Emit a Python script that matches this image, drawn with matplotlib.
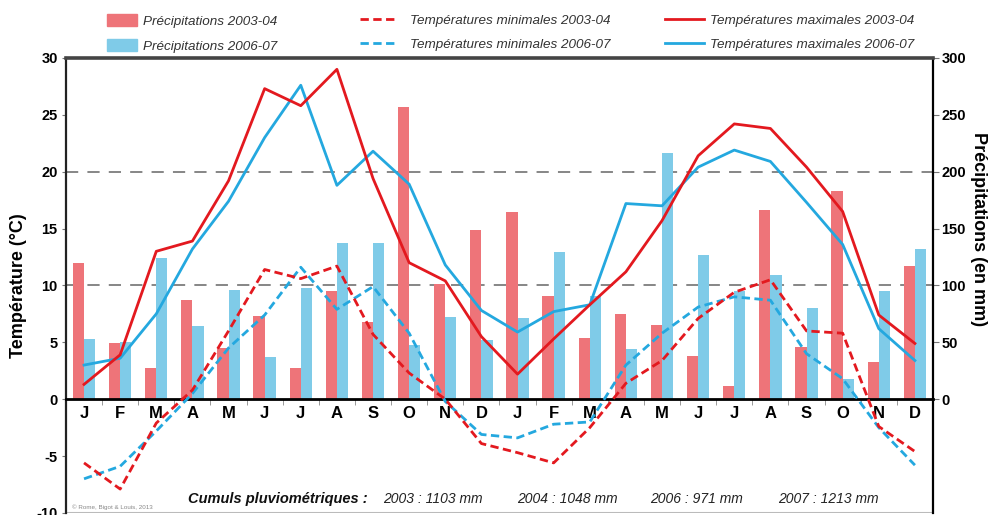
import numpy as np
import matplotlib
matplotlib.use("Agg")
import matplotlib.pyplot as plt
from matplotlib.patches import Patch
from matplotlib.lines import Line2D

plt.rcParams['font.family'] = ['Liberation Sans', 'DejaVu Sans']
plt.rcParams['axes.unicode_minus'] = False

# Mois (deux années hydrologiques enchaînées)
mois = ["J", "F", "M", "A", "M", "J", "J", "A", "S", "O", "N", "D",
        "J", "F", "M", "A", "M", "J", "J", "A", "S", "O", "N", "D"]

# Précipitations (mm)
precip_0304 = [120, 49, 27, 87, 45, 73, 27, 95, 68, 257, 101, 149,
               165, 91, 54, 75, 65, 38, 12, 166, 46, 183, 33, 117]
precip_0607 = [53, 50, 124, 64, 96, 37, 98, 137, 137, 48, 72, 52,
               71, 129, 91, 44, 216, 127, 95, 109, 80, 18, 95, 132]

# Températures (°C)
tmax_0304 = [1.3, 3.9, 13.0, 13.9, 19.2, 27.3, 25.8, 29.0, 19.4, 12.0, 10.4, 5.5,
             2.2, 5.3, 8.3, 11.2, 15.7, 21.4, 24.2, 23.8, 20.4, 16.5, 7.4, 4.9]
tmax_0607 = [3.0, 3.6, 7.5, 13.2, 17.4, 23.0, 27.6, 18.8, 21.8, 18.9, 11.8, 7.8,
             5.9, 7.7, 8.3, 17.2, 17.0, 20.4, 21.9, 20.9, 17.3, 13.6, 6.2, 3.4]
tmin_0304 = [-5.6, -7.9, -2.1, 0.8, 6.0, 11.4, 10.6, 11.7, 5.7, 2.3, 0.0, -3.9,
             -4.7, -5.6, -2.5, 1.4, 3.4, 7.1, 9.4, 10.5, 6.0, 5.8, -2.4, -4.6]
tmin_0607 = [-7.0, -5.9, -2.8, 0.5, 4.5, 7.4, 11.6, 7.9, 9.9, 5.8, -0.2, -3.1,
             -3.4, -2.2, -2.0, 3.0, 5.8, 8.1, 9.0, 8.7, 4.0, 1.8, -2.5, -5.8]

cumuls = ["2003 : 1103 mm", "2004 : 1048 mm", "2006 : 971 mm", "2007 : 1213 mm"]

RED_BAR = "#ee7479"
BLUE_BAR = "#7fcbe8"
RED = "#e3191f"
BLUE = "#24a8df"

x = np.arange(len(mois)) + 0.5

fig = plt.figure(figsize=(9.92, 5.15), dpi=100)
ax = fig.add_axes([0.0665, 0.004, 0.874, 0.8835])
ax2 = ax.twinx()
ax.set_zorder(ax2.get_zorder() + 1)
ax.patch.set_visible(False)

# spine position first: it resets the ticks
ax.spines['bottom'].set_position(('data', 0))

# Précipitations sur l'axe de droite
ax2.bar(x - 0.155, precip_0304, width=0.31, color=RED_BAR, zorder=2)
ax2.bar(x + 0.155, precip_0607, width=0.31, color=BLUE_BAR, zorder=2)
for v in (100, 200):
    ax2.axhline(v, color="#666666", lw=1.1, dashes=(8, 6), zorder=1)
ax2.set_ylim(-100, 300)
ax2.set_yticks(np.arange(0, 301, 50))
ax2.tick_params(axis='y', direction='out', length=4, color='#777777',
                labelsize=10.5, pad=2)
for t in ax2.get_yticklabels():
    t.set_fontweight('bold')
ax2.set_ylabel("Précipitations (en mm)", rotation=270, fontsize=13,
               fontweight='bold', labelpad=14)
ax2.yaxis.set_label_coords(1.062, 0.625)

# Températures
ax.plot(x, tmax_0304, color=RED, lw=2.0, zorder=4)
ax.plot(x, tmax_0607, color=BLUE, lw=2.0, zorder=3)
ax.plot(x, tmin_0304, color=RED, lw=2.0, dashes=(3, 1.6), zorder=4)
ax.plot(x, tmin_0607, color=BLUE, lw=2.0, dashes=(3, 1.6), zorder=3)

ax.set_xlim(0, 24)
ax.set_ylim(-10, 30)
ax.set_yticks(np.arange(-10, 31, 5))
ax.tick_params(axis='y', direction='out', length=3, color='#777777',
               labelsize=10.5, pad=3)
ax.set_ylabel("Température (°C)", fontsize=13, fontweight='bold')
ax.yaxis.set_label_coords(-0.045, 0.5)

ax.set_xticks(x)
ax.set_xticklabels(mois, fontweight='bold', fontsize=12)
ax.set_xticks(np.arange(0, 25), minor=True)
ax.tick_params(axis='x', which='major', length=0, pad=5)
ax.tick_params(axis='x', which='minor', direction='out', length=4,
               color='#888888')
for t in ax.get_yticklabels():
    t.set_fontweight('bold')

ax.spines['bottom'].set_linewidth(2)
ax.spines['left'].set_linewidth(1.6)
ax.spines['left'].set_color('#222222')
ax.spines['top'].set_linewidth(2.6)
ax.spines['top'].set_color('#444444')
ax.spines['right'].set_linewidth(1.6)
for s in ax2.spines.values():
    s.set_visible(False)
ax.axhline(-10, color='#bbbbbb', lw=1.5, zorder=0)

# Légendes (trois colonnes)
leg_font = {'style': 'italic', 'size': 9.7}
kw = dict(loc='upper left', frameon=False, borderpad=0, borderaxespad=0,
          labelspacing=0.85, prop=leg_font, labelcolor='#333333')
fig.legend([Patch(color=RED_BAR), Patch(color=BLUE_BAR)],
           ["Précipitations 2003-04", "Précipitations 2006-07"],
           bbox_to_anchor=(0.108, 0.972), handlelength=2.2, handleheight=0.95,
           handletextpad=0.45, **kw)
fig.legend([Line2D([], [], color=RED, lw=2, dashes=(3, 1.6)),
            Line2D([], [], color=BLUE, lw=2, dashes=(3, 1.6))],
           ["Températures minimales 2003-04", "Températures minimales 2006-07"],
           bbox_to_anchor=(0.363, 0.972), handlelength=2.8,
           handletextpad=0.9, **kw)
fig.legend([Line2D([], [], color=RED, lw=2), Line2D([], [], color=BLUE, lw=2)],
           ["Températures maximales 2003-04", "Températures maximales 2006-07"],
           bbox_to_anchor=(0.670, 0.972), handlelength=2.9,
           handletextpad=0.45, **kw)

# Cumuls pluviométriques
fig.text(0.19, 0.023, "Cumuls pluviométriques :", fontsize=10.5,
         fontweight='bold', style='italic', color='#111111')
for xp, txt in zip([0.386, 0.521, 0.655, 0.784], cumuls):
    fig.text(xp, 0.023, txt, fontsize=10, style='italic', color='#222222')
fig.text(0.073, 0.012, "© Rome, Bigot & Louis, 2013", fontsize=4.5,
         color='#888888')

fig.savefig("out.png", dpi=100)
